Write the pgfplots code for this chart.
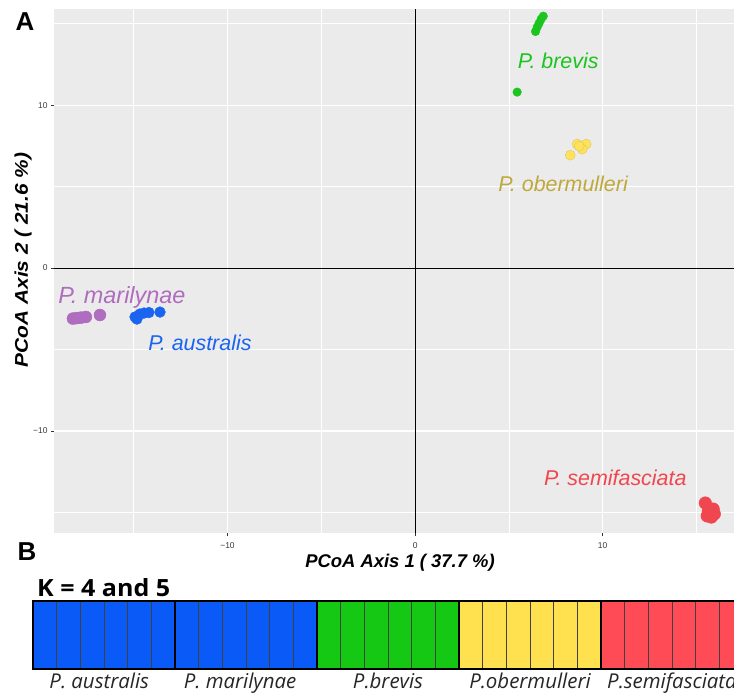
\documentclass[border=0pt]{standalone}
\usepackage{pgfplots}
\pgfplotsset{compat=1.18}
\usepackage{fontspec}
\setmainfont{Liberation Sans}
\newfontfamily\opensans{Open Sans}
\usepackage{graphicx}
\definecolor{ggbg}{HTML}{EBEBEB}
\definecolor{ggtick}{HTML}{333333}
\definecolor{ggtxt}{HTML}{3A3A3A}
\definecolor{pbrev}{HTML}{1CC41E}
\definecolor{pober}{HTML}{FFE25C}
\definecolor{poberl}{HTML}{BFA83C}
\definecolor{pmari}{HTML}{B06CBE}
\definecolor{paust}{HTML}{1A64F0}
\definecolor{psemi}{HTML}{F0464F}
\definecolor{sblue}{HTML}{0A5AF8}
\definecolor{sgreen}{HTML}{14C814}
\definecolor{syellow}{HTML}{FFE150}
\definecolor{sred}{HTML}{FF4B55}
\begin{document}
\begin{tikzpicture}[x=1bp,y=1bp]
\useasboundingbox (0,0) rectangle (734,-693);
\begin{axis}[
  at={(54bp,-9bp)}, anchor=north west,
  width=680bp, height=524bp, scale only axis,
  xmin=-19.25, xmax=17.0, ymin=-16.26, ymax=15.9,
  axis background/.style={fill=ggbg},
  axis line style={draw=none},
  xtick={-10,0,10}, ytick={-10,0,10},
  xticklabels={−10,0,10}, yticklabels={−10,0,10},
  minor xtick={-15,-5,5,15}, minor ytick={-15,-5,5,15},
  grid=both,
  major grid style={white, line width=1.1bp},
  minor grid style={white, line width=0.55bp},
  tick align=outside, tickpos=left,
  major tick length=3bp, minor tick length=0pt,
  tick style={ggtick, line width=0.55bp},
  ticklabel style={font=\fontsize{8.5}{9}\selectfont, text=ggtxt},
  xticklabel style={yshift=-3bp},
]
\addplot[black, line width=0.8bp, forget plot] coordinates {(0,-16.26) (0,15.9)};
\addplot[black, line width=0.8bp, forget plot] coordinates {(-19.25,0) (17,0)};
% P. brevis
\addplot[only marks, mark=*, mark size=4.3bp, color=pbrev] coordinates {
(6.83,15.46) (6.72,15.28) (6.61,15.03) (6.51,14.79) (6.42,14.52) (5.44,10.80)};
% P. obermulleri
\addplot[only marks, mark=*, mark size=5bp, mark options={fill=pober, draw=pober!85!black, line width=0.3bp}] coordinates {
(8.64,7.61) (8.91,7.42) (9.12,7.61) (8.91,7.30) (8.75,7.48) (8.27,6.93)};
% P. marilynae
\addplot[only marks, mark=*, mark size=6bp, color=pmari] coordinates {
(-18.24,-3.10) (-18.03,-3.07) (-17.81,-3.04) (-17.55,-3.00) (-16.80,-2.88)};
% P. australis
\addplot[only marks, mark=*, mark size=5.4bp, color=paust] coordinates {
(-14.93,-3.00) (-14.83,-3.13) (-14.67,-2.82) (-14.45,-2.76) (-14.19,-2.73) (-13.60,-2.70)};
% P. semifasciata
\addplot[only marks, mark=*, mark size=6.3bp, color=psemi] coordinates {
(15.47,-14.42) (15.89,-14.79) (15.63,-14.91) (15.79,-15.28) (15.57,-15.21) (15.95,-15.09)};
\node[anchor=base, text=pbrev, font=\fontsize{21.5}{24}\selectfont\itshape] at (axis cs:7.63,12.27) {P. brevis};
\node[anchor=base, text=poberl, font=\fontsize{21.5}{24}\selectfont\itshape] at (axis cs:7.89,4.72) {P. obermulleri};
\node[anchor=base, text=pmari, font=\fontsize{23.5}{26}\selectfont\itshape] at (axis cs:-15.63,-2.15) {P. marilynae};
\node[anchor=base, text=paust, font=\fontsize{21.5}{24}\selectfont\itshape] at (axis cs:-11.47,-5.03) {P. australis};
\node[anchor=base, text=psemi, font=\fontsize{21.5}{24}\selectfont\itshape] at (axis cs:10.67,-13.37) {P. semifasciata};
\end{axis}
\node[font=\fontsize{18.5}{20}\selectfont\bfseries\itshape] at (400,-563) {PCoA Axis 1 ( 37.7 \%)};
\node[rotate=90, font=\fontsize{18.5}{20}\selectfont\bfseries\itshape] at (23,-260) {\scalebox{1.13}[1]{PCoA Axis 2 ( 21.6 \%)}};
\node[font=\fontsize{26}{28}\selectfont\bfseries] at (25,-22) {A};
\node[font=\fontsize{26}{28}\selectfont\bfseries] at (27,-552) {B};
\node[anchor=base west, inner sep=0pt] at (37,-596) {\resizebox{133bp}{18bp}{\opensans\bfseries K = 4 and 5}};
\begin{axis}[
  at={(33bp,-601bp)}, anchor=north west,
  width=710bp, height=68bp, scale only axis,
  xmin=0, xmax=30, ymin=0, ymax=1,
  axis on top,
  axis line style={black, line width=2.2bp},
  ytick=\empty,
  xtick={2.8,8.75,15,21,27},
  xticklabels={P. australis, P. marilynae, P.brevis, P.obermulleri, P.semifasciata},
  major tick length=0pt,
  xticklabel style={anchor=base, yshift=-19bp, font=\opensans\itshape\fontsize{20.5}{22}\selectfont, text=black!85},
]
\addplot[ybar, bar width=1, fill=sblue, draw=black!75, line width=0.7bp] coordinates {
(0.5,1) (1.5,1) (2.5,1) (3.5,1) (4.5,1) (5.5,1) (6.5,1) (7.5,1) (8.5,1) (9.5,1) (10.5,1) (11.5,1)};
\addplot[ybar, bar width=1, fill=sgreen, draw=black!75, line width=0.7bp] coordinates {
(12.5,1) (13.5,1) (14.5,1) (15.5,1) (16.5,1) (17.5,1)};
\addplot[ybar, bar width=1, fill=syellow, draw=black!75, line width=0.7bp] coordinates {
(18.5,1) (19.5,1) (20.5,1) (21.5,1) (22.5,1) (23.5,1)};
\addplot[ybar, bar width=1, fill=sred, draw=black!75, line width=0.7bp] coordinates {
(24.5,1) (25.5,1) (26.5,1) (27.5,1) (28.5,1) (29.5,1)};
\addplot[black, line width=1.8bp] coordinates {(6,0) (6,1)};
\addplot[black, line width=1.8bp] coordinates {(12,0) (12,1)};
\addplot[black, line width=1.8bp] coordinates {(18,0) (18,1)};
\addplot[black, line width=1.8bp] coordinates {(24,0) (24,1)};
\end{axis}
\end{tikzpicture}
\end{document}
